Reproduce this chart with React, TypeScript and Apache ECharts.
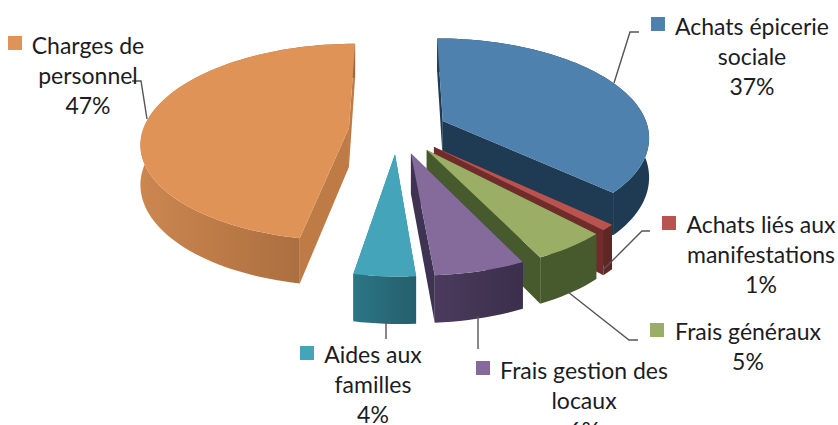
import React, { useEffect, useRef } from "react";
import * as echarts from "echarts";

const categories = ["Achats épicerie sociale", "Achats liés aux manifestations", "Frais généraux", "Frais gestion des locaux", "Aides aux familles", "Charges de personnel"];
const values = [37, 1, 5, 6, 4, 47];
const labelTexts = ["Achats épicerie\nsociale\n37%", "Achats liés aux\nmanifestations\n1%", "Frais généraux\n5%", "Frais gestion des\nlocaux\n6%", "Aides aux\nfamilles\n4%", "Charges de\npersonnel\n47%"];
const labelCenters = [[752, 11], [761, 209], [748, 316], [584, 355], [373, 339], [88, 30]];
const keyBoxes = [[651, 17], [662, 216], [650, 323], [476, 361], [300, 346], [8, 36]];
const leaders = [
  [[614, 83], [630, 32], [639, 32]],
  [[603, 270], [642, 231], [650, 231]],
  [[568, 292], [629, 340], [638, 340]],
  [[478, 316], [478, 349]],
  [[386, 322], [386, 339]],
  [[147, 119], [141, 81], [132, 81]],
];
const topColors = ["#4F81AF", "#B9534F", "#9AAE66", "#846B9C", "#44A5BA", "#E09357"];
const wallLeft = ["#1F3B54", "#5E2725", "#475A2D", "#4B3A5C", "#2B7686", "#CC8650"];
const wallRight = ["#1F3B54", "#5E2725", "#475A2D", "#3B2F4C", "#255F6C", "#A0673A"];
const sideColors = ["#1F3B54", "#6F2C2A", "#475A2D", "#3F3352", "#2B7686", "#BE7B45"];

const CX = 398, CY = 130.2, RX = 206, RY = 97, PERSP = 0.144, DEPTH = 39, EXPLODE = 0.24, STEP = 2, SKEW = 4;

const total = values.reduce((a, b) => a + b, 0);

function project(X: number, Y: number, lower: boolean): number[] {
  const s = 1 / (1 - PERSP * Y);
  const skew = Y > 0 ? SKEW * Y * Y : 0;
  return [CX + RX * X * s + skew, CY + (RY * Y + (lower ? DEPTH : 0)) * s];
}

function renderSlice(params: any, api: any) {
  const i = params.dataIndex;
  let before = 0;
  for (let k = 0; k < i; k++) before += values[k];
  const a0 = (before / total) * 2 * Math.PI;
  const a1 = ((before + api.value(0)) / total) * 2 * Math.PI;
  const mid = (a0 + a1) / 2;
  const ex = EXPLODE * Math.sin(mid);
  const ey = -EXPLODE * Math.cos(mid);
  const n = Math.max(2, Math.ceil(((a1 - a0) * 180) / Math.PI / STEP));
  const top: number[][] = [];
  const bottom: number[][] = [];
  for (let k = 0; k <= n; k++) {
    const a = a0 + ((a1 - a0) * k) / n;
    const X = ex + Math.sin(a);
    const Y = ey - Math.cos(a);
    top.push(project(X, Y, false));
    bottom.push(project(X, Y, true));
  }
  const apexT = project(ex, ey, false);
  const apexB = project(ex, ey, true);
  const side = sideColors[i];
  const poly = (points: number[][], fill: any) => ({
    type: "polygon",
    shape: { points },
    style: { fill, stroke: null },
  });
  const outer = new echarts.graphic.LinearGradient(0, 0, 1, 0, [
    { offset: 0, color: wallLeft[i] },
    { offset: 1, color: wallRight[i] },
  ]);
  return {
    type: "group",
    children: [
      poly([apexT, top[0], bottom[0], apexB], side),
      poly([apexT, top[n], bottom[n], apexB], side),
      poly([...top, ...bottom.slice().reverse()], outer),
      poly([apexT, ...top], topColors[i]),
    ],
  };
}

export default function App() {
  const ref = useRef<HTMLDivElement>(null);
  useEffect(() => {
    document.body.style.margin = "0";
    const chart = echarts.init(ref.current!, undefined, { renderer: "svg" });
    const graphic: any[] = [];
    categories.forEach((_, i) => {
      graphic.push({
        type: "polyline",
        z: 10,
        shape: { points: leaders[i] },
        style: { stroke: "#555555", lineWidth: 1.4, fill: null },
      });
      graphic.push({
        type: "rect",
        z: 10,
        shape: { x: keyBoxes[i][0], y: keyBoxes[i][1], width: 14, height: 14 },
        style: { fill: topColors[i] },
      });
      graphic.push({
        type: "text",
        z: 11,
        x: labelCenters[i][0],
        y: labelCenters[i][1],
        style: {
          text: labelTexts[i],
          fill: "#1c1c24",
          font: "23px Lato",
          align: "center",
          verticalAlign: "top",
          lineHeight: 30,
        },
      });
    });
    chart.setOption({
      animation: false,
      backgroundColor: "#ffffff",
      graphic,
      series: [
        {
          type: "custom",
          coordinateSystem: "none",
          silent: true,
          clip: false,
          renderItem: renderSlice,
          data: values.map((v, i) => ({ name: categories[i], value: v })),
        },
      ],
    });
    return () => chart.dispose();
  }, []);
  return <div ref={ref} style={{ position: "fixed", left: 0, top: 0, width: 838, height: 425 }} />;
}
